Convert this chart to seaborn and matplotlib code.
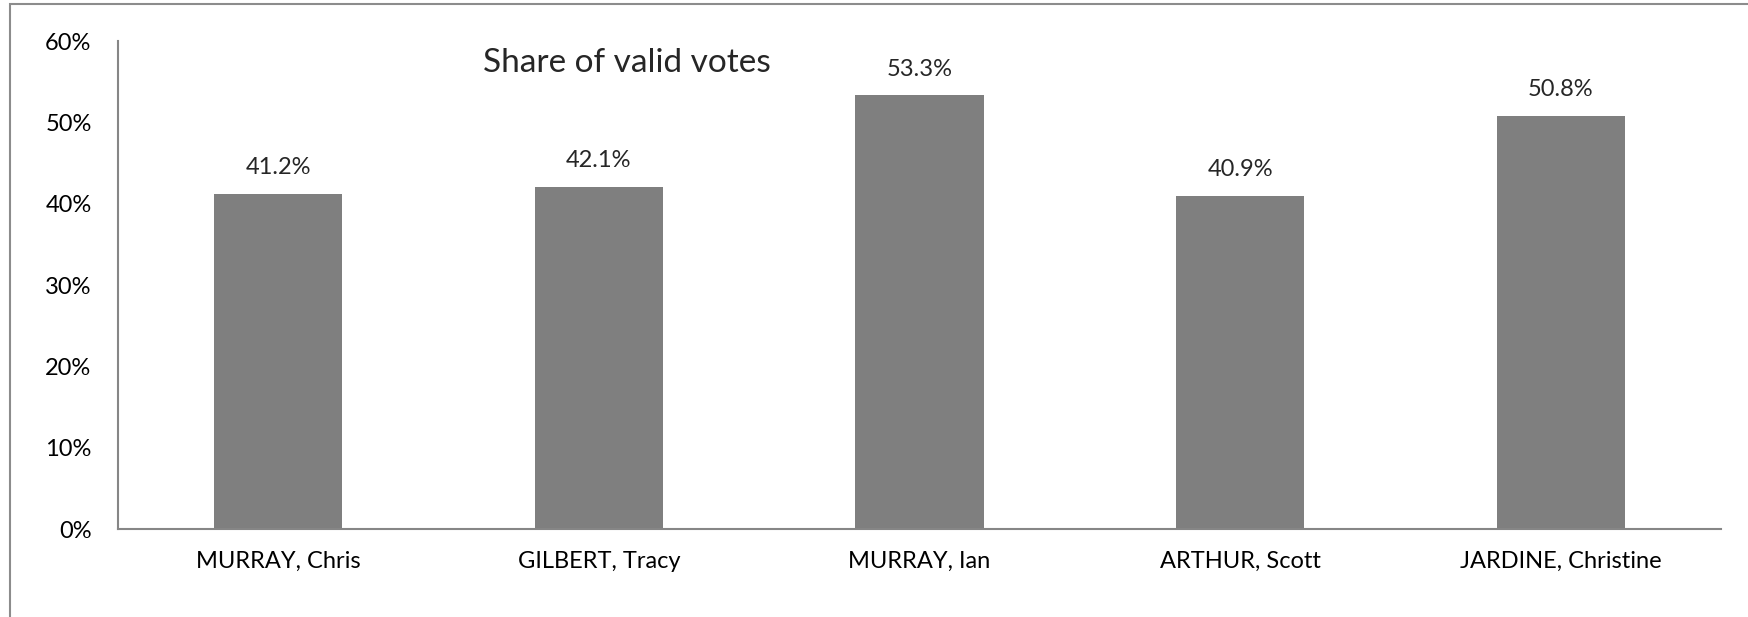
import seaborn as sns
import matplotlib.pyplot as plt
import matplotlib.patches as patches
import pandas as pd

candidates = ["MURRAY, Chris", "GILBERT, Tracy", "MURRAY, Ian", "ARTHUR, Scott", "JARDINE, Christine"]
share = [41.2, 42.1, 53.3, 40.9, 50.8]
yticks = [0, 10, 20, 30, 40, 50, 60]

df = pd.DataFrame({"candidate": candidates, "share": share})

sns.set_style("white")
plt.rcParams["font.family"] = ["Lato", "DejaVu Sans"]

fig = plt.figure(figsize=(17.48, 6.17), dpi=100)
ax = fig.add_axes([118 / 1748, 1 - 529 / 617, (1721 - 118) / 1748, (529 - 41) / 617])

sns.barplot(ax=ax, data=df, x="candidate", y="share", color="#7f7f7f",
            width=0.4, saturation=1, edgecolor="none")

ax.set_ylim(0, 60)
ax.set_yticks(yticks)
ax.set_yticklabels([f"{t}%" for t in yticks])
ax.set_xlabel("")
ax.set_ylabel("")
ax.tick_params(axis="both", length=0, labelsize=17, colors="black")
ax.tick_params(axis="y", pad=19)
ax.tick_params(axis="x", pad=16)

sns.despine(ax=ax)
for s in ["left", "bottom"]:
    ax.spines[s].set_color("#868686")
    ax.spines[s].set_linewidth(1.5)

for i, v in enumerate(share):
    ax.annotate(f"{v}%", (i, v), xytext=(0, 19), textcoords="offset points",
                ha="center", va="center", fontsize=17)

ax.text(0.3175, 0.955, "Share of valid votes", transform=ax.transAxes,
        ha="center", va="center", fontsize=24)

# chart frame (only top/left edges fall inside the image)
fig.patches.append(patches.Rectangle((10 / 1748, -0.2), 1.5, 1 - 4 / 617 + 0.2,
                                     transform=fig.transFigure, fill=False,
                                     edgecolor="#8c8c8c", linewidth=1.5))

fig.savefig("out.png", dpi=100)
